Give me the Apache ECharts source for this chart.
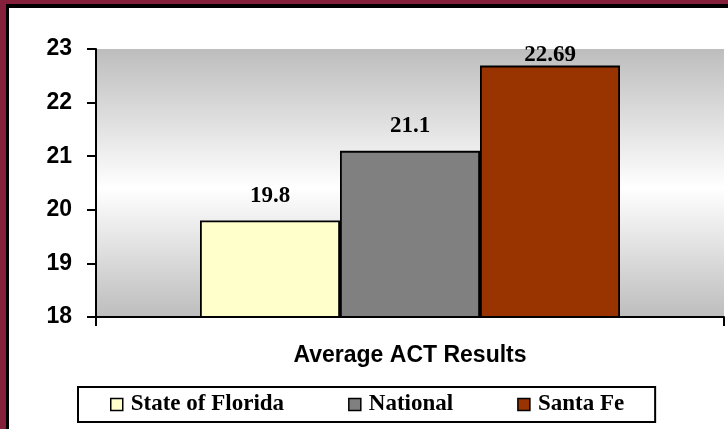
<!DOCTYPE html>
<html>
<head>
<meta charset="utf-8">
<script src="https://cdn.jsdelivr.net/npm/echarts@6/dist/echarts.min.js"></script>
<style>
html,body{margin:0;padding:0;background:#fff;}
#c{width:728px;height:429px;}
</style>
</head>
<body>
<div id="c"></div>
<script>
var categories = ['Average ACT Results'];
var seriesNames = ['State of Florida', 'National', 'Santa Fe'];
var seriesValues = [[19.8], [21.1], [22.69]];
var seriesColors = ['#FFFFCC', '#808080', '#993300'];
var labelDistances = [13, 13, -1];
var yTicks = { min: 18, max: 23, interval: 1 };

var chart = echarts.init(document.getElementById('c'), null, { renderer: 'canvas' });

var series = seriesNames.map(function (name, i) {
  return {
    name: name,
    type: 'bar',
    data: seriesValues[i],
    barWidth: 140,
    barGap: '0%',
    itemStyle: { color: seriesColors[i], borderColor: '#000', borderWidth: 1.8 },
    label: {
      show: true,
      position: 'top',
      distance: labelDistances[i],
      fontFamily: '"Liberation Serif", "Times New Roman", serif',
      fontWeight: 'bold',
      fontSize: 23,
      color: '#000'
    }
  };
});

chart.setOption({
  animation: false,
  backgroundColor: '#fff',
  graphic: [
    { type: 'rect', shape: { x: 0, y: 0, width: 728, height: 4 }, style: { fill: '#85203A' }, z: 100 },
    { type: 'rect', shape: { x: 0, y: 0, width: 6, height: 429 }, style: { fill: '#85203A' }, z: 100 },
    { type: 'rect', shape: { x: 6, y: 4, width: 722, height: 4 }, style: { fill: '#000' }, z: 100 },
    { type: 'rect', shape: { x: 6, y: 4, width: 3, height: 425 }, style: { fill: '#000' }, z: 100 }
  ],
  grid: {
    left: 96, top: 49, right: 4, bottom: 112,
    show: true,
    borderWidth: 0,
    backgroundColor: {
      type: 'linear', x: 0, y: 0, x2: 0, y2: 1,
      colorStops: [
        { offset: 0, color: '#BDBDBD' },
        { offset: 0.52, color: '#FFFFFF' },
        { offset: 1, color: '#BDBDBD' }
      ]
    }
  },
  legend: {
    left: 78,
    top: 387,
    orient: 'horizontal',
    selectedMode: false,
    padding: [6, 31, 6, 32],
    borderColor: '#000',
    borderWidth: 2,
    itemGap: 64,
    itemWidth: 12,
    itemHeight: 12,
    icon: 'rect',
    itemStyle: { borderColor: '#000', borderWidth: 1.5 },
    textStyle: {
      fontFamily: '"Liberation Serif", "Times New Roman", serif',
      fontWeight: 'bold',
      fontSize: 23,
      lineHeight: 23,
      color: '#000',
      padding: [0, 0, 0, 3]
    },
    data: seriesNames
  },
  xAxis: {
    type: 'category',
    data: categories,
    axisLine: { show: true, lineStyle: { color: '#000', width: 2 } },
    axisTick: { show: true, length: 9, lineStyle: { color: '#000', width: 2 } },
    axisLabel: {
      margin: 27,
      fontFamily: '"Liberation Sans", Arial, sans-serif',
      fontWeight: 'bold',
      fontSize: 23,
      color: '#000'
    },
    splitLine: { show: false }
  },
  yAxis: {
    type: 'value',
    min: yTicks.min,
    max: yTicks.max,
    interval: yTicks.interval,
    axisLine: { show: true, lineStyle: { color: '#000', width: 2 } },
    axisTick: { show: true, length: 9, lineStyle: { color: '#000', width: 2 } },
    axisLabel: {
      margin: 24,
      fontFamily: '"Liberation Sans", Arial, sans-serif',
      fontWeight: 'bold',
      fontSize: 23,
      color: '#000'
    },
    splitLine: { show: false }
  },
  series: series
});
</script>
</body>
</html>
